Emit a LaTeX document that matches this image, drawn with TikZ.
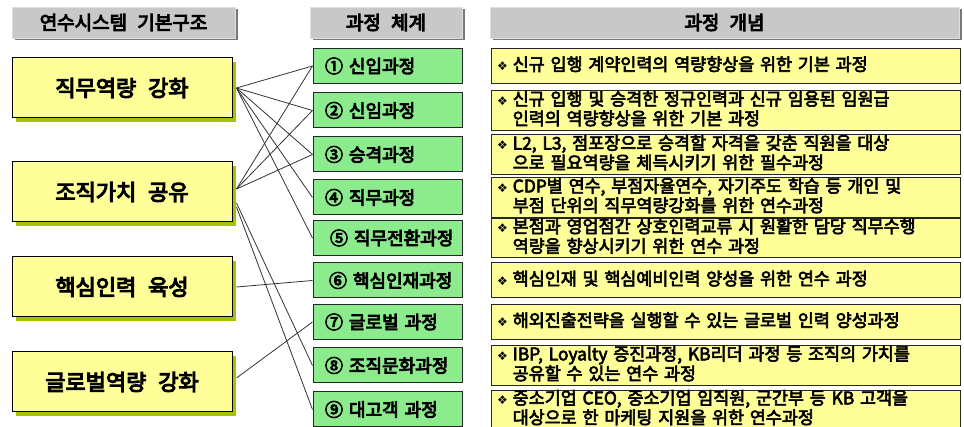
\documentclass[tikz,border=0pt]{standalone}
\usepackage{fontspec}
\newfontfamily\kr{Noto Sans CJK KR}[FakeBold=5, WordSpace=2.4]
\newfontfamily\krr{Noto Sans CJK KR}[FakeBold=3.5, WordSpace=4]
\newfontfamily\dv{DejaVu Sans}
\usetikzlibrary{shadows}
\definecolor{hdrgray}{RGB}{200,200,200}
\definecolor{hdrdark}{RGB}{120,120,120}
\definecolor{lyellow}{RGB}{255,255,153}
\definecolor{olivesh}{RGB}{165,195,0}
\definecolor{lgreen}{RGB}{140,235,140}
\newcommand{\bul}[2]{\begin{tabular}{@{}l@{\hspace{5pt}}l@{}}{\dv\fontsize{12}{12}\selectfont ❖}&#1\\&#2\end{tabular}}
\newcommand{\bulone}[1]{\begin{tabular}{@{}l@{\hspace{5pt}}l@{}}{\dv\fontsize{12}{12}\selectfont ❖}&#1\end{tabular}}
\begin{document}
\begin{tikzpicture}[x=1pt,y=-1pt,
 hdr/.style={fill=hdrgray, draw=hdrgray!60!white, minimum height=31pt, inner sep=0pt,
   font=\kr\fontsize{19}{19}\selectfont,
   drop shadow={shadow xshift=3pt, shadow yshift=-2pt, fill=hdrdark, opacity=1}},
 lbox/.style={fill=lyellow, draw=black, line width=1pt, minimum width=220pt, minimum height=60pt,
   inner sep=0pt, font=\kr\fontsize{22}{22}\selectfont,
   drop shadow={shadow xshift=4pt, shadow yshift=-4pt, fill=olivesh, opacity=1}},
 gbox/.style={fill=lgreen, draw=black!85, line width=1pt, minimum width=149pt, minimum height=35pt,
   inner xsep=12pt, inner ysep=0pt, text width=125pt, align=left,
   font=\kr\fontsize{18}{18}\selectfont},
 rbox/.style={fill=lyellow, draw=black!85, line width=1pt, minimum width=469pt, minimum height=35pt,
   inner xsep=6pt, inner ysep=0pt, text width=457pt, align=left,
   font=\krr\fontsize{17.4}{17}\selectfont},
 link/.style={draw=black!80, line width=0.8pt}]
\useasboundingbox (0,0) rectangle (964,427);
\fill[white] (0,0) rectangle (964,427);

% headers
\node[hdr, minimum width=223pt] (h1) at (123.5,22.5) {연수시스템 기본구조};
\node[hdr, minimum width=152pt] (h2) at (386,22.5) {과정 체계};
\node[hdr, minimum width=469pt] (h3) at (724.5,22.5) {과정 개념};

% left boxes
\node[lbox] (L1) at (122,88) {직무역량 강화};
\node[lbox] (L2) at (122,192) {조직가치 공유};
\node[lbox] (L3) at (122,287) {핵심인력 육성};
\node[lbox] (L4) at (122,382) {글로벌역량 강화};

% green boxes
\node[gbox] (G1) at (387.5,66) {\mbox{① 신입과정}};
\node[gbox] (G2) at (387.5,110.5) {\mbox{② 신임과정}};
\node[gbox] (G3) at (387.5,154.5) {\mbox{③ 승격과정}};
\node[gbox] (G4) at (387.5,197.5) {\mbox{④ 직무과정}};
\node[gbox] (G5) at (387.5,238) {\mbox{\hspace*{5pt}⑤ 직무전환과정}};
\node[gbox] (G6) at (387.5,280.5) {\mbox{\hspace*{4pt}⑥ 핵심인재과정}};
\node[gbox] (G7) at (387.5,322) {\mbox{⑦ 글로벌 과정}};
\node[gbox] (G8) at (387.5,365.5) {\mbox{⑧ 조직문화과정}};
\node[gbox] (G9) at (387.5,409.5) {\mbox{⑨ 대고객 과정}};

% right boxes
\node[rbox] (R1) at (725.5,66) {\bulone{신규 입행 계약인력의 역량향상을 위한 기본 과정}};
\node[rbox] (R2) at (725.5,110.5) {\bul{신규 입행 및 승격한 정규인력과 신규 임용된 임원급}{인력의 역량향상을 위한 기본 과정}};
\node[rbox] (R3) at (725.5,154.5) {\bul{L2, L3, 점포장으로 승격할 자격을 갖춘 직원을 대상}{으로 필요역량을 체득시키기 위한 필수과정}};
\node[rbox] (R4) at (725.5,197.5) {\bul{CDP별 연수, 부점자율연수, 자기주도 학습 등 개인 및}{부점 단위의 직무역량강화를 위한 연수과정}};
\node[rbox] (R5) at (725.5,238) {\bul{본점과 영업점간 상호인력교류 시 원활한 담당 직무수행}{역량을 향상시키기 위한 연수 과정}};
\node[rbox] (R6) at (725.5,280.5) {\bulone{핵심인재 및 핵심예비인력 양성을 위한 연수 과정}};
\node[rbox] (R7) at (725.5,322) {\bulone{해외진출전략을 실행할 수 있는 글로벌 인력 양성과정}};
\node[rbox] (R8) at (725.5,365.5) {\bul{IBP, Loyalty 증진과정, KB리더 과정 등 조직의 가치를}{공유할 수 있는 연수 과정}};
\node[rbox] (R9) at (725.5,409.5) {\bul{중소기업 CEO, 중소기업 임직원, 군간부 등 KB 고객을}{대상으로 한 마케팅 지원을 위한 연수과정}};

% connectors
\foreach \g in {G1,G2,G3,G4,G5}
  \draw[link] ([xshift=4pt]L1.east) -- (\g.west);
\foreach \g in {G1,G2,G3}
  \draw[link] ([xshift=4pt,yshift=3pt]L2.east) -- (\g.west);
\draw[link] ([xshift=4pt,yshift=-11pt]L2.east) -- (G8.west);
\draw[link] ([xshift=4pt,yshift=-15pt]L2.east) -- (G9.west);
\draw[link] ([xshift=4pt]L3.east) -- (G6.west);
\draw[link] ([xshift=4pt,yshift=4pt]L4.east) -- (G7.west);
\end{tikzpicture}
\end{document}
